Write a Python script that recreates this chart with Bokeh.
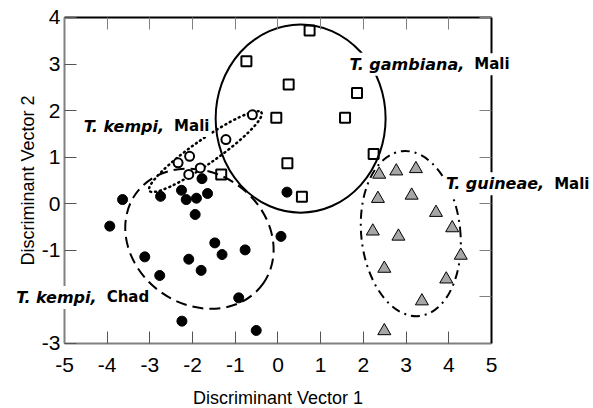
from bokeh.plotting import figure
from bokeh.models import Range1d, LinearAxis, FixedTicker, Label
from bokeh.embed import file_html
from bokeh.resources import INLINE

# ---- data ----
kempi_chad_x = [-3.64, -2.75, -2.26, -1.78, -2.15, -1.91, -1.65, 0.21, -3.94, -1.94, -1.48,
                -1.31, -0.77, -2.09, -3.12, -2.77, -1.80, 0.07, -0.92, -2.25, -0.51]
kempi_chad_y = [0.09, 0.16, 0.29, 0.54, 0.09, 0.12, 0.22, 0.25, -0.48, -0.23, -0.84,
                -1.09, -0.99, -1.19, -1.14, -1.54, -1.43, -0.70, -2.02, -2.52, -2.72]

kempi_mali_x = [-0.60, -1.22, -2.07, -2.34, -2.09, -1.82]
kempi_mali_y = [1.91, 1.38, 1.02, 0.88, 0.63, 0.77]

gambiana_x = [-0.74, 0.25, -0.04, 0.22, -1.33, 0.74, 1.85, 1.57, 2.24, 0.56]
gambiana_y = [3.06, 2.56, 1.85, 0.87, 0.63, 3.72, 2.38, 1.85, 1.07, 0.15]

guineae_x = [2.37, 2.77, 3.23, 2.34, 3.13, 3.70, 4.08, 2.22, 2.82, 4.28, 2.49, 3.94, 3.37, 2.49]
guineae_y = [0.63, 0.70, 0.75, 0.11, 0.18, -0.19, -0.52, -0.59, -0.70, -1.11, -1.39, -1.62, -2.09, -2.73]

# group ellipses: centre, width, height (data units), angle (deg)
ell_names = ["gambiana", "kempi_mali", "kempi_chad", "guineae"]
ell_x = [0.53, -1.70, -1.84, 3.11]
ell_y = [1.83, 1.12, -0.75, -0.64]
ell_w = [3.98, 3.20, 3.65, 2.32]
ell_h = [4.04, 0.52, 2.83, 3.56]
ell_angle = [0, 35, -35, 6]

# group labels: italic part, roman part, anchor (data)
lab_italic = ["T. gambiana,", "T. kempi,", "T. kempi,", "T. guineae,"]
lab_roman = ["Mali", "Mali", "Chad", "Mali"]
lab_x = [4.55, -2.48, -4.06, 6.42]
lab_y = [2.995, 1.67, -2.01, 0.43]

x_ticks = [-5, -4, -3, -2, -1, 0, 1, 2, 3, 4, 5]
x_tick_labels = ["-5", "-4", "-3", "-2", "-1", "0", "1", "2", "3", "4", "5"]
y_ticks = [-3, -2, -1, 0, 1, 2, 3, 4]
y_tick_labels = ["-3", "-2", "-1", "0", "1", "2", "3", "4"]

X_MIN, X_MAX = -5, 5
Y_MIN, Y_MAX = -3, 4

# ---- figure: frame spans the whole canvas, axes sit at fixed data locations ----
p = figure(width=593, height=408, output_backend="svg", toolbar_location=None,
           x_range=Range1d(-6.4988, 7.3888), y_range=Range1d(-4.3958, 4.3650),
           min_border=0)
p.xgrid.visible = False
p.ygrid.visible = False
p.outline_line_color = None
p.background_fill_color = "white"
p.border_fill_color = "white"

TICK_FONT = "Liberation Sans"

xa = p.xaxis[0]
ya = p.yaxis[0]
xa.fixed_location = Y_MIN
ya.fixed_location = X_MIN
xa.bounds = (X_MIN, X_MAX)
ya.bounds = (Y_MIN, Y_MAX)
xa.ticker = FixedTicker(ticks=x_ticks)
ya.ticker = FixedTicker(ticks=y_ticks)
xa.major_label_overrides = dict(zip(x_ticks, x_tick_labels))
ya.major_label_overrides = dict(zip(y_ticks, y_tick_labels))

for ax in (xa, ya):
    ax.axis_line_color = "#808080"
    ax.axis_line_width = 2
    ax.major_tick_line_color = "#555555"
    ax.major_tick_line_width = 1
    ax.major_tick_in = 12
    ax.major_tick_out = 0
    ax.minor_tick_line_color = None
    ax.major_label_text_font = TICK_FONT
    ax.major_label_text_font_size = "21px"
    ax.major_label_text_color = "black"
    ax.axis_label_text_font = TICK_FONT
    ax.axis_label_text_font_size = "18px"
    ax.axis_label_text_font_style = "normal"
    ax.axis_label_text_color = "black"

xa.axis_label = "Discriminant Vector 1"
ya.axis_label = "Discriminant Vector 2"
xa.major_label_standoff = 15
xa.axis_label_standoff = 12
ya.major_label_standoff = 4
ya.axis_label_standoff = 1

top_ax = LinearAxis(ticker=FixedTicker(ticks=x_ticks), fixed_location=Y_MAX, bounds=(X_MIN, X_MAX))
right_ax = LinearAxis(ticker=FixedTicker(ticks=y_ticks), fixed_location=X_MAX, bounds=(Y_MIN, Y_MAX))
top_ax.major_label_overrides = {t: "" for t in x_ticks}
right_ax.major_label_overrides = {t: "" for t in y_ticks}
for ax in (top_ax, right_ax):
    ax.axis_line_color = "black"
    ax.axis_line_width = 2
    ax.major_tick_line_color = "#808080"
    ax.major_tick_line_width = 1
    ax.major_tick_in = 12
    ax.major_tick_out = 0
    ax.minor_tick_line_color = None
    ax.major_label_text_color = None
p.add_layout(top_ax, "above")
p.add_layout(right_ax, "right")

# ---- ellipses ----
ell_styles = {
    "gambiana": dict(line_dash="solid"),
    "kempi_mali": dict(line_dash="1 4", line_cap="round", line_width=2.5),
    "kempi_chad": dict(line_dash="11 6"),
    "guineae": dict(line_dash="9 5 2 5"),
}
for i, name in enumerate(ell_names):
    style = dict(line_color="black", line_width=2)
    style.update(ell_styles[name])
    p.ellipse(x=[ell_x[i]], y=[ell_y[i]], width=[ell_w[i]], height=[ell_h[i]],
              angle=[ell_angle[i]], angle_units="deg", fill_color=None, **style)

# ---- points ----
p.scatter(kempi_chad_x, kempi_chad_y, marker="circle", size=10,
          fill_color="black", line_color="black")
p.scatter(kempi_mali_x, kempi_mali_y, marker="circle", size=9,
          fill_color="white", line_color="black", line_width=2)
p.scatter(gambiana_x, gambiana_y, marker="square", size=10,
          fill_color=None, line_color="black", line_width=2)
p.scatter(guineae_x, guineae_y, marker="triangle", size=13,
          fill_color="#a6a6a6", line_color="black", line_width=1)

# ---- group labels ----
LAB_FONT = "DejaVu Sans"
for i in range(len(lab_italic)):
    p.add_layout(Label(x=lab_x[i], y=lab_y[i], text=lab_italic[i], x_offset=-6,
                       text_font=LAB_FONT, text_font_size="16px", text_font_style="bold italic",
                       text_align="right", text_baseline="middle", text_color="black",
                       background_fill_color="white", padding=2))
    p.add_layout(Label(x=lab_x[i], y=lab_y[i], text=lab_roman[i],
                       text_font=LAB_FONT, text_font_size="15px", text_font_style="bold",
                       text_align="left", text_baseline="middle", text_color="black",
                       background_fill_color="white", padding=2))

open("out.html", "w").write(file_html(p, INLINE))
